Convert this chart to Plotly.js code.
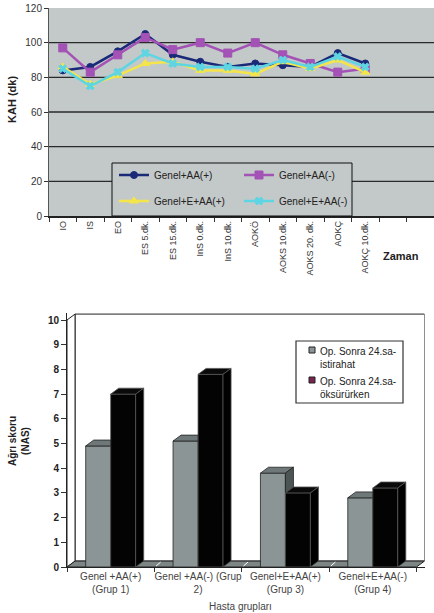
<!DOCTYPE html>
<html><head><meta charset="utf-8">
<script src="https://cdn.plot.ly/plotly-3.0.1.min.js"></script>
<style>html,body{margin:0;padding:0;background:#fff;}#chart{width:434px;height:613px;}</style>
</head><body><div id="chart"></div>
<script>
// ---------- Top chart data ----------
const timePoints = ['IO','IS','EO','ES 5.dk.','ES 15.dk.','InS 0.dk.','InS 10.dk.','AOKÖ','AOKS 10.dk.','AOKS 20. dk.','AOKÇ','AOKÇ 10.dk.'];
const genelAAplus   = [84, 86, 95, 105, 93, 89, 86, 88, 87, 86, 94, 88];
const genelAAminus  = [97, 83, 93, 103, 96, 100, 94, 100, 93, 88, 83, 85];
const genelEAAplus  = [86, 76, 81, 88, 89, 84, 84, 82, 89, 85, 90, 83];
const genelEAAminus = [85, 75, 83, 94, 88, 86, 86, 85, 90, 86, 92, 86];
const topYTicks = [0, 20, 40, 60, 80, 100, 120];

// ---------- Bottom chart data ----------
const groupLabels = ['Genel +AA(+)<br>(Grup 1)', 'Genel +AA(-) (Grup<br>2)', 'Genel+E+AA(+)<br>(Grup 3)', 'Genel+E+AA(-)<br>(Grup 4)'];
const restScores  = [4.9, 5.1, 3.8, 2.8];
const coughScores = [7.0, 7.8, 3.0, 3.2];
const bottomYTicks = [0,1,2,3,4,5,6,7,8,9,10];
const seriesNames = ['Op. Sonra 24.sa-<br>istirahat', 'Op. Sonra 24.sa-<br>öksürürken'];

const W = 434, H = 613;
const px = v => v / W;
const py = v => 1 - v / H;
const FONT = 'Liberation Sans, Arial, sans-serif';

const idx = timePoints.map((_, i) => i);
function lineTrace(y, name, color, symbol, size, legend) {
  return {type:'scatter', mode:'lines+markers', x: idx, y: y, name: name, legend: legend,
    line:{color: color, width: 2.5},
    marker:{color: color, symbol: symbol, size: size, line:{color: color, width: 1}},
    xaxis:'x', yaxis:'y', hoverinfo:'skip'};
}
const traces = [
  lineTrace(genelAAplus, 'Genel+AA(+)', '#1B2A78', 'circle', 7, 'legend'),
  lineTrace(genelAAminus, 'Genel+AA(-)', '#A352B5', 'square', 8, 'legend'),
  lineTrace(genelEAAplus, 'Genel+E+AA(+)', '#F4E64A', 'triangle-up', 8, 'legend2'),
  lineTrace(genelEAAminus, 'Genel+E+AA(-)', '#5ED5E2', 'x', 7, 'legend2')
];

// ---------- Bottom 3D bars ----------
const gIdx = groupLabels.map((_, i) => i);
const bw = 0.286, dx = 0.092, dy = 0.24;
traces.push({type:'bar', x: gIdx, y: restScores, width: bw, offset: -bw, name: seriesNames[0],
  marker:{color:'#8C9595', line:{color:'#222', width:0.8}}, xaxis:'x2', yaxis:'y2', showlegend:false, hoverinfo:'skip'});
traces.push({type:'bar', x: gIdx, y: coughScores, width: bw, offset: 0, name: seriesNames[1],
  marker:{color:'#030303', line:{color:'#555', width:0.8}}, xaxis:'x2', yaxis:'y2', showlegend:false, hoverinfo:'skip'});

function polyTrace(builder, fill, lineColor) {
  const xs = [], ys = [];
  gIdx.forEach(i => {
    const pts = builder(i);
    if (!pts) return;
    pts.concat([pts[0]]).forEach(p => { xs.push(p[0]); ys.push(p[1]); });
    xs.push(null); ys.push(null);
  });
  return {type:'scatter', mode:'lines', x: xs, y: ys, fill:'toself', fillcolor: fill,
    line:{color: lineColor, width: 0.8}, xaxis:'x2', yaxis:'y2', showlegend:false, hoverinfo:'skip'};
}
// gray top face
traces.push(polyTrace(i => {
  const vg = restScores[i], vb = coughScores[i];
  if (vb > vg) return [[i-bw, vg], [i, vg], [i, vg+dy], [i-bw+dx, vg+dy]];
  return [[i-bw, vg], [i, vg], [i+dx, vg+dy], [i-bw+dx, vg+dy]];
}, '#6F7878', '#222'));
// gray side face (visible part only)
traces.push(polyTrace(i => {
  const vg = restScores[i], vb = coughScores[i];
  if (vb >= vg) return null;
  return [[i, vb], [i, vg], [i+dx, vg+dy], [i+dx, vb+dy]];
}, '#4C5454', '#222'));
// black top face
traces.push(polyTrace(i => {
  const vb = coughScores[i];
  return [[i, vb], [i+bw, vb], [i+bw+dx, vb+dy], [i+dx, vb+dy]];
}, '#0A0A0A', '#555'));
// black side face
traces.push(polyTrace(i => {
  const vb = coughScores[i];
  return [[i+bw, 0], [i+bw, vb], [i+bw+dx, vb+dy], [i+bw+dx, dy]];
}, '#000000', '#555'));

// ---------- Shapes ----------
const shapes = [];
shapes.push({type:'rect', xref:'x domain', yref:'y domain', x0:0, x1:1, y0:0, y1:1, fillcolor:'#C3C8C8', line:{width:0}, layer:'below'});
topYTicks.filter(v => v > 0 && v < 120).forEach(v => {
  shapes.push({type:'line', xref:'x domain', yref:'y', x0:0, x1:1, y0:v, y1:v, line:{color:'#2A2A2A', width:1.3}, layer:'below'});
});
shapes.push({type:'rect', xref:'paper', yref:'paper', x0:px(112), x1:px(352), y0:py(216), y1:py(163), fillcolor:'#C3C8C8', line:{color:'#111', width:1}, layer:'above'});

const xL = -0.5, xR = 3.5;
shapes.push({type:'path', xref:'x2', yref:'y2', layer:'below',
  path:`M${xL+dx},${dy} L${xR+dx},${dy} L${xR+dx},${10+dy} L${xL+dx},${10+dy} Z`, fillcolor:'#FFFFFF', line:{color:'#222', width:1}});
shapes.push({type:'path', xref:'x2', yref:'y2', layer:'below',
  path:`M${xL},0 L${xL+dx},${dy} L${xL+dx},${10+dy} L${xL},10 Z`, fillcolor:'#FFFFFF', line:{color:'#222', width:1}});
shapes.push({type:'path', xref:'x2', yref:'y2', layer:'below',
  path:`M${xL},0 L${xR},0 L${xR+dx},${dy} L${xL+dx},${dy} Z`, fillcolor:'#7D8585', line:{color:'#222', width:1}});
[0.5, 1.5, 2.5].forEach(b => {
  shapes.push({type:'line', xref:'x2', yref:'y2', layer:'below', x0:b+0.02, y0:0.04, x1:b+dx-0.02, y1:dy-0.04, line:{color:'#FFFFFF', width:1}});
});

shapes.push({type:'rect', xref:'paper', yref:'paper', x0:px(296), x1:px(403), y0:py(403), y1:py(341), fillcolor:'#FFFFFF', line:{color:'#333', width:1.2}});
shapes.push({type:'rect', xref:'paper', yref:'paper', x0:px(309), x1:px(315), y0:py(353), y1:py(347), fillcolor:'#8C9595', line:{color:'#222', width:1}});
shapes.push({type:'rect', xref:'paper', yref:'paper', x0:px(309), x1:px(315), y0:py(383), y1:py(377), fillcolor:'#7A2450', line:{color:'#222', width:1}});

const annotations = [
  {text:'<b>KAH (dk)</b>', x:px(12), y:py(100), xref:'paper', yref:'paper', textangle:-90, showarrow:false, font:{family:FONT, size:11, color:'#222'}, xanchor:'center', yanchor:'middle'},
  {text:'<b>Zaman</b>', x:px(401), y:py(256), xref:'paper', yref:'paper', showarrow:false, font:{family:FONT, size:11, color:'#222'}, xanchor:'center', yanchor:'middle'},
  {text:'<b>Ağrı skoru<br>(NAS)</b>', x:px(19), y:py(441), xref:'paper', yref:'paper', textangle:-90, showarrow:false, font:{family:FONT, size:10, color:'#222'}, xanchor:'center', yanchor:'middle'},
  {text:'Hasta grupları', x:px(240), y:py(606), xref:'paper', yref:'paper', showarrow:false, font:{family:FONT, size:10, color:'#444'}, xanchor:'center', yanchor:'middle'},
  {text:seriesNames[0], x:px(318), y:py(344), xref:'paper', yref:'paper', showarrow:false, align:'left', font:{family:FONT, size:10, color:'#222'}, xanchor:'left', yanchor:'top'},
  {text:seriesNames[1], x:px(318), y:py(374), xref:'paper', yref:'paper', showarrow:false, align:'left', font:{family:FONT, size:10, color:'#222'}, xanchor:'left', yanchor:'top'}
];

const legendBase = {orientation:'h', xanchor:'left', yanchor:'middle', entrywidth:80, entrywidthmode:'pixels',
  bgcolor:'rgba(0,0,0,0)', borderwidth:0, font:{family:FONT, size:10, color:'#222'}, itemclick:false, itemdoubleclick:false};

const layout = {
  width: W, height: H, autosize:false,
  margin:{l:0, r:0, t:0, b:0},
  paper_bgcolor:'#FFFFFF', plot_bgcolor:'rgba(0,0,0,0)',
  font:{family:FONT, size:10, color:'#333'},
  showlegend:true,
  legend: Object.assign({}, legendBase, {x:px(114), y:py(175)}),
  legend2: Object.assign({}, legendBase, {x:px(114), y:py(201)}),
  barmode:'overlay',
  xaxis:{domain:[px(49), 1], range:[-0.5, 13.5], anchor:'y',
    tickvals: idx, ticktext: timePoints, tickangle:-90, ticks:'',
    tickfont:{family:FONT, size:9, color:'#333'},
    minor:{ticks:'outside', tick0:-0.5, dtick:1, ticklen:4, tickcolor:'#333', showgrid:false},
    showline:true, linecolor:'#222', linewidth:1.5, showgrid:false, zeroline:false, fixedrange:true},
  yaxis:{domain:[py(216), py(8)], range:[0, 120], anchor:'x', tickvals: topYTicks,
    ticks:'outside', ticklen:4, tickcolor:'#333', tickfont:{family:FONT, size:10, color:'#333'},
    showline:true, linecolor:'#555', linewidth:1, showgrid:false, zeroline:false, fixedrange:true},
  xaxis2:{domain:[px(67), px(424.5)], range:[-0.5, 3.5+dx], anchor:'y2',
    tickvals: gIdx, ticktext: groupLabels, ticks:'', tickangle:0,
    tickfont:{family:FONT, size:10, color:'#444'},
    minor:{ticks:'outside', tick0:-0.5, dtick:1, ticklen:4, tickcolor:'#333', showgrid:false},
    showline:true, linecolor:'#222', linewidth:1, showgrid:false, zeroline:false, fixedrange:true},
  yaxis2:{domain:[py(567), py(312.6)], range:[0, 10.3], anchor:'x2', tickvals: bottomYTicks,
    ticks:'outside', ticklen:5, tickcolor:'#333', tickfont:{family:FONT, size:10, color:'#222', weight:'bold'},
    showline:true, linecolor:'#222', linewidth:1, showgrid:false, zeroline:false, fixedrange:true},
  shapes: shapes,
  annotations: annotations
};

Plotly.newPlot('chart', traces, layout, {staticPlot:true, displayModeBar:false});
</script>
</body></html>
